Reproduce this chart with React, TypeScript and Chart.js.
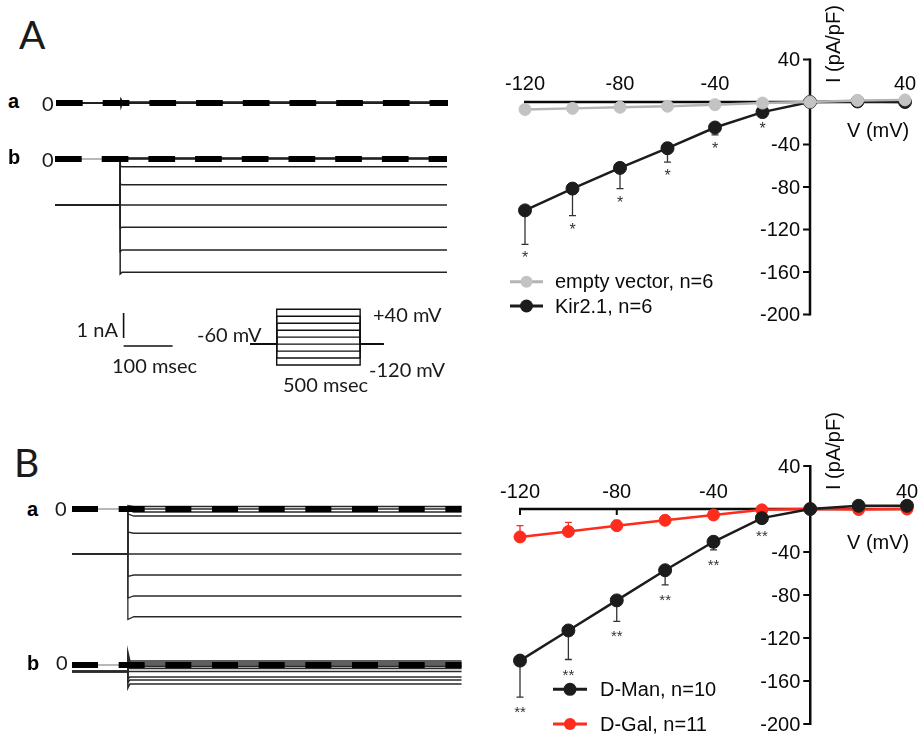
import React, { useEffect, useRef } from "react";
import { Chart, registerables } from "chart.js";

Chart.register(...registerables);

// ---------------- fonts ----------------
const ARIAL = '"Liberation Sans", Arial, Helvetica, sans-serif';
const CALIBRI = 'Lato, "Open Sans", "Liberation Sans", sans-serif';
const ASC_ARIAL = 0.8465;
const ASC_LATO = 0.887;

// ---------------- I–V data (pA/pF vs mV) ----------------
const V_MV = [-120, -100, -80, -60, -40, -20, 0, 20, 40];
const IV_X_TICK_LABELS = [-120, -80, -40, 40];
const IV_X_TICK_MARKS = [-120, -80, -40, 40];
const IV_Y_TICK_LABELS = [40, -40, -80, -120, -160, -200];

const EMPTY_VECTOR = [-7, -6, -5, -4, -2.5, -1, 0, 1.5, 2];
const EMPTY_VECTOR_SEM = [0, 0, 0, 0, 0, 0, 0, 0, 0];
const EMPTY_VECTOR_SIG = ["", "", "", "", "", "", "", "", ""];
const KIR21 = [-102, -81.5, -62, -43.5, -24, -9.5, 0, 0.5, 0];
const KIR21_SEM = [32, 25.5, 19.5, 13, 7, 3, 0, 0, 0];
const KIR21_SIG = ["*", "*", "*", "*", "*", "*", "", "", ""];

const D_MAN = [-141, -113, -85, -57, -30.5, -8.5, 0, 3, 3];
const D_MAN_SEM = [34, 27, 19.5, 13.5, 7.5, 3, 0, 0, 0];
const D_MAN_SIG = ["**", "**", "**", "**", "**", "**", "", "", ""];
const D_GAL = [-26, -21, -15.5, -10.5, -5.5, -0.8, 0, -0.5, 0];
const D_GAL_SEM = [10.5, 8.5, 5, 3, 2, 1, 0, 0, 0];
const D_GAL_SIG = ["", "", "", "", "", "", "", "", ""];

// ---------------- current traces (nA vs ms) ----------------
const STEP_MV = [-120, -100, -80, -60, -40, -20, 0, 20, 40];
const A_TIMES = [0, 133, 800]; // start, step onset, end (ms)
const B_TIMES = [0, 114, 795];

const A_A_HOLD = 0;
const A_A_LEVELS = [0.03, 0.02, 0.02, 0.01, 0.0, 0.0, 0.0, 0.01, 0.02];
const A_A_PEAKS = [-0.14, -0.1, -0.06, 0.0, 0.04, 0.06, 0.1, 0.12, 0.14];

const A_B_HOLD = -1.84;
const A_B_LEVELS = [-4.53, -3.64, -2.73, -1.84, -1.03, -0.31, 0.0, 0.02, 0.04];
const A_B_PEAKS = [-4.6, -3.7, -2.76, -1.84, -1.0, -0.28, 0.02, 0.04, 0.06];

const B_A_HOLD = -1.8;
const B_A_LEVELS = [-4.31, -3.48, -2.64, -1.8, -0.97, -0.28, -0.12, 0.0, 0.1];
const B_A_PEAKS = [-4.42, -3.56, -2.7, -1.8, -0.92, -0.2, -0.05, 0.05, 0.14];

const B_B_HOLD = -0.26;
const B_B_LEVELS = [-0.76, -0.6, -0.48, -0.26, -0.14, -0.06, 0.0, 0.08, 0.16];
const B_B_PEAKS = [-0.92, -0.7, -0.55, -0.26, -0.05, 0.1, 0.25, 0.4, 0.52];

// voltage protocol
const PROTOCOL_T = [-160, 0, 500, 640]; // ms
const HOLD_MV = -60;

// scale bar (1 nA, 100 ms)
const SCALE_NA = 1;
const SCALE_MS = 100;

// ---------------- helpers ----------------
type Rect = { left: number; top: number; width: number; height: number };
type Box = { x0: number; x1: number; y0: number; y1: number };

function PlacedChart({ rect, box, build }: { rect: Rect; box: Box; build: (padding: any) => any }) {
  const ref = useRef<HTMLCanvasElement | null>(null);
  useEffect(() => {
    const padding = {
      left: box.x0 - rect.left,
      right: rect.left + rect.width - box.x1,
      top: box.y0 - rect.top,
      bottom: rect.top + rect.height - box.y1,
    };
    const chart = new Chart(ref.current as HTMLCanvasElement, build(padding));
    return () => chart.destroy();
  }, []);
  return (
    <canvas
      ref={ref}
      width={rect.width}
      height={rect.height}
      style={{ position: "absolute", left: rect.left, top: rect.top, width: rect.width, height: rect.height }}
    />
  );
}

function baseOptions(padding: any, xMin: number, xMax: number, yMin: number, yMax: number) {
  return {
    responsive: false,
    maintainAspectRatio: false,
    animation: false as const,
    events: [] as any[],
    layout: { padding },
    plugins: { legend: { display: false }, tooltip: { enabled: false } },
    scales: {
      x: { type: "linear", min: xMin, max: xMax, display: false },
      y: { type: "linear", min: yMin, max: yMax, display: false },
    },
  };
}

function lineDs(points: { x: number; y: number }[], color: string, width: number, extra: any = {}) {
  return {
    data: points,
    borderColor: color,
    backgroundColor: color,
    borderWidth: width,
    pointRadius: 0,
    tension: 0,
    clip: false,
    borderCapStyle: "butt",
    borderJoinStyle: "miter",
    ...extra,
  };
}

function sweepPoints(times: number[], hold: number, peak: number, level: number, settle: number) {
  const [t0, ts, te] = times;
  return [
    { x: t0, y: hold },
    { x: ts, y: hold },
    { x: ts, y: peak },
    { x: ts + settle, y: level },
    { x: te, y: level },
  ];
}

type TraceSpec = {
  times: number[];
  hold: number;
  levels: number[];
  peaks: number[];
  settle: number;
  dash: number[];
  xMax: number;
  yMin: number;
  yMax: number;
  sweepColor: string;
  sweepWidth: number;
  extra?: any[];
};

function traceBuilder(spec: TraceSpec) {
  return (padding: any) => {
    const [t0, ts, te] = spec.times;
    const sweeps = spec.levels.map((lv, i) =>
      lineDs(sweepPoints(spec.times, spec.hold, spec.peaks[i], lv, spec.settle), spec.sweepColor, spec.sweepWidth)
    );
    const zeroThin = lineDs([{ x: t0, y: 0 }, { x: ts, y: 0 }], "#a0a0a0", 1.4);
    const zeroDash = lineDs([{ x: t0, y: 0 }, { x: te, y: 0 }], "#000", 6, { borderDash: spec.dash });
    const datasets = [zeroDash, ...(spec.extra || []), ...sweeps, zeroThin];
    return {
      type: "line",
      data: { datasets },
      options: baseOptions(padding, 0, spec.xMax, spec.yMin, spec.yMax),
    };
  };
}

function protocolBuilder(padding: any) {
  const [tA, tOn, tOff, tB] = PROTOCOL_T;
  const datasets = STEP_MV.map((v) =>
    lineDs(
      [
        { x: tA, y: HOLD_MV },
        { x: tOn, y: HOLD_MV },
        { x: tOn, y: v },
        { x: tOff, y: v },
        { x: tOff, y: HOLD_MV },
        { x: tB, y: HOLD_MV },
      ],
      "#111",
      1.4
    )
  );
  return {
    type: "line",
    data: { datasets },
    options: baseOptions(padding, tA, tB, -120, 40),
  };
}

// ---------------- I–V chart ----------------
type Series = {
  label: string;
  values: number[];
  sem: number[];
  semDir: number;
  sig: string[];
  line: string;
  fill: string;
  semColor: string;
  radius: number;
};

type IvLayout = {
  ox: number;
  oy: number;
  xLabelGap: number;
  vTitle: { x: number; y: number };
  iTitle: { x: number; y: number };
  legend: { x0: number; x1: number; textX: number; rows: number[] };
  sigFont: number;
  sigOffset: number;
};

function ivBuilder(series: Series[], lay: IvLayout) {
  const AX = "#0a0a0a";
  const plugin = {
    id: "ivDecor",
    beforeDatasetsDraw(chart: any) {
      const ctx = chart.ctx as CanvasRenderingContext2D;
      const xs = chart.scales.x;
      const ys = chart.scales.y;
      const px0 = xs.getPixelForValue(0);
      const py0 = ys.getPixelForValue(0);
      ctx.save();
      ctx.strokeStyle = AX;
      ctx.lineCap = "butt";
      ctx.lineWidth = 2.5;
      ctx.beginPath();
      ctx.moveTo(xs.getPixelForValue(xs.min) - 1, py0);
      ctx.lineTo(xs.getPixelForValue(xs.max) + 1, py0);
      ctx.moveTo(px0, ys.getPixelForValue(ys.max) - 1);
      ctx.lineTo(px0, ys.getPixelForValue(ys.min) + 1);
      ctx.stroke();
      ctx.lineWidth = 2;
      ctx.beginPath();
      for (const t of IV_X_TICK_MARKS) {
        const p = xs.getPixelForValue(t);
        ctx.moveTo(p, py0);
        ctx.lineTo(p, py0 + 6);
      }
      for (const t of IV_Y_TICK_LABELS) {
        const p = ys.getPixelForValue(t);
        ctx.moveTo(px0, p);
        ctx.lineTo(px0 - 7, p);
      }
      ctx.stroke();

      ctx.fillStyle = AX;
      ctx.font = `20px ${ARIAL}`;
      ctx.textAlign = "center";
      ctx.textBaseline = "alphabetic";
      for (const t of IV_X_TICK_LABELS) ctx.fillText(String(t), xs.getPixelForValue(t), py0 - lay.xLabelGap);
      ctx.textAlign = "right";
      ctx.textBaseline = "middle";
      for (const t of IV_Y_TICK_LABELS) ctx.fillText(String(t), px0 - 10, ys.getPixelForValue(t) + 1);

      ctx.textAlign = "left";
      ctx.textBaseline = "middle";
      ctx.fillText("V (mV)", lay.vTitle.x - lay.ox, lay.vTitle.y - lay.oy);
      ctx.save();
      ctx.translate(lay.iTitle.x - lay.ox, lay.iTitle.y - lay.oy);
      ctx.rotate(-Math.PI / 2);
      ctx.fillText("I (pA/pF)", 0, 0);
      ctx.restore();

      // error bars (one-sided)
      for (const s of series) {
        ctx.strokeStyle = s.semColor;
        ctx.lineWidth = 1.3;
        ctx.beginPath();
        V_MV.forEach((v, i) => {
          if (!s.sem[i]) return;
          const x = xs.getPixelForValue(v);
          const yA = ys.getPixelForValue(s.values[i]);
          const yB = ys.getPixelForValue(s.values[i] + s.semDir * s.sem[i]);
          ctx.moveTo(x, yA);
          ctx.lineTo(x, yB);
          ctx.moveTo(x - 3.5, yB);
          ctx.lineTo(x + 3.5, yB);
        });
        ctx.stroke();
      }
      ctx.restore();
    },
    afterDatasetsDraw(chart: any) {
      const ctx = chart.ctx as CanvasRenderingContext2D;
      const xs = chart.scales.x;
      const ys = chart.scales.y;
      ctx.save();
      // significance marks
      ctx.fillStyle = "#333";
      ctx.font = `${lay.sigFont}px ${ARIAL}`;
      ctx.textAlign = "center";
      ctx.textBaseline = "alphabetic";
      for (const s of series) {
        V_MV.forEach((v, i) => {
          if (!s.sig[i]) return;
          const y = ys.getPixelForValue(s.values[i] - s.sem[i]);
          ctx.fillText(s.sig[i], xs.getPixelForValue(v), y + lay.sigOffset);
        });
      }
      // legend
      const L = lay.legend;
      series.forEach((s, i) => {
        const y = L.rows[i] - lay.oy;
        const x0 = L.x0 - lay.ox;
        const x1 = L.x1 - lay.ox;
        ctx.strokeStyle = s.line;
        ctx.lineWidth = 3;
        ctx.beginPath();
        ctx.moveTo(x0, y);
        ctx.lineTo(x1, y);
        ctx.stroke();
        ctx.fillStyle = s.fill;
        ctx.beginPath();
        ctx.arc((x0 + x1) / 2, y, s.radius, 0, Math.PI * 2);
        ctx.fill();
        ctx.fillStyle = AX;
        ctx.font = `20px ${ARIAL}`;
        ctx.textAlign = "left";
        ctx.textBaseline = "middle";
        ctx.fillText(s.label, L.textX - lay.ox, y + 1);
      });
      ctx.restore();
    },
  };

  return (padding: any) => ({
    type: "line",
    data: {
      datasets: series.map((s) => ({
        label: s.label,
        data: V_MV.map((v, i) => ({ x: v, y: s.values[i] })),
        borderColor: s.line,
        backgroundColor: s.fill,
        pointBackgroundColor: s.fill,
        pointBorderColor: s.fill,
        pointBorderWidth: 1,
        pointRadius: s.radius,
        borderWidth: 2.5,
        tension: 0,
        clip: false,
      })),
    },
    options: baseOptions(padding, -120, 40, -200, 40),
    plugins: [plugin],
  });
}

// ---------------- labels ----------------
function Label({
  x,
  y,
  text,
  size,
  family,
  asc,
  weight = 400,
  align = "left",
  color = "#1a1a1a",
}: {
  x: number;
  y: number;
  text: string;
  size: number;
  family: string;
  asc: number;
  weight?: number;
  align?: string;
  color?: string;
}) {
  const shift = align === "right" ? "-100%" : align === "center" ? "-50%" : "0";
  return (
    <div
      style={{
        position: "absolute",
        left: x,
        top: y - asc * size,
        fontFamily: family,
        fontSize: size,
        fontWeight: weight,
        lineHeight: `${size}px`,
        whiteSpace: "nowrap",
        color,
        transform: `translateX(${shift})`,
      }}
    >
      {text}
    </div>
  );
}

const cal = (x: number, y: number, text: string, size = 20, align = "left") => (
  <Label key={text + x + y} x={x} y={y} text={text} size={size} family={CALIBRI} asc={ASC_LATO} align={align} />
);
const bold = (x: number, y: number, text: string) => (
  <Label key={text + x + y} x={x} y={y} text={text} size={20} family={ARIAL} asc={ASC_ARIAL} weight={700} color="#000" />
);

// ---------------- app ----------------
export default function App() {
  const ivA = ivBuilder(
    [
      {
        label: "empty vector, n=6",
        values: EMPTY_VECTOR,
        sem: EMPTY_VECTOR_SEM,
        semDir: -1,
        sig: EMPTY_VECTOR_SIG,
        line: "#b4b4b4",
        fill: "#c3c3c3",
        semColor: "#999",
        radius: 6,
      },
      {
        label: "Kir2.1, n=6",
        values: KIR21,
        sem: KIR21_SEM,
        semDir: -1,
        sig: KIR21_SIG,
        line: "#1c1c1c",
        fill: "#1c1c1c",
        semColor: "#333",
        radius: 6.5,
      },
    ],
    {
      ox: 490,
      oy: 0,
      xLabelGap: 12,
      vTitle: { x: 847, y: 131 },
      iTitle: { x: 834, y: 83 },
      legend: { x0: 510, x1: 543, textX: 555, rows: [281.7, 306] },
      sigFont: 16,
      sigOffset: 19,
    }
  );

  const ivB = ivBuilder(
    [
      {
        label: "D-Man, n=10",
        values: D_MAN,
        sem: D_MAN_SEM,
        semDir: -1,
        sig: D_MAN_SIG,
        line: "#1c1c1c",
        fill: "#1c1c1c",
        semColor: "#333",
        radius: 6.5,
      },
      {
        label: "D-Gal, n=11",
        values: D_GAL,
        sem: D_GAL_SEM,
        semDir: 1,
        sig: D_GAL_SIG,
        line: "#ff2b1c",
        fill: "#ff2b1c",
        semColor: "#ff2b1c",
        radius: 6,
      },
    ],
    {
      ox: 490,
      oy: 405,
      xLabelGap: 11.5,
      vTitle: { x: 847, y: 543 },
      iTitle: { x: 834, y: 490 },
      legend: { x0: 553, x1: 587, textX: 600, rows: [689.3, 724] },
      sigFont: 15,
      sigOffset: 20,
    }
  );

  const scaleBar = [
    lineDs([{ x: 140, y: -6.16 }, { x: 140, y: -6.16 - SCALE_NA }], "#111", 1.6),
    lineDs([{ x: 140, y: -7.48 }, { x: 140 + SCALE_MS, y: -7.48 }], "#111", 1.6),
  ];

  return (
    <div
      style={{
        position: "absolute",
        left: 0,
        top: 0,
        width: 920,
        height: 735,
        background: "#fff",
        overflow: "hidden",
      }}
    >
      {/* Panel A traces */}
      <PlacedChart
        rect={{ left: 45, top: 80, width: 415, height: 45 }}
        box={{ x0: 56, x1: 448, y0: 88, y1: 118 }}
        build={traceBuilder({
          times: A_TIMES,
          hold: A_A_HOLD,
          levels: A_A_LEVELS,
          peaks: A_A_PEAKS,
          settle: 3,
          dash: [26.7, 20],
          xMax: 800,
          yMin: -0.6,
          yMax: 0.6,
          sweepColor: "#222",
          sweepWidth: 1.4,
        })}
      />
      <PlacedChart
        rect={{ left: 45, top: 135, width: 415, height: 235 }}
        box={{ x0: 55, x1: 447, y0: 146.5, y1: 359 }}
        build={traceBuilder({
          times: A_TIMES,
          hold: A_B_HOLD,
          levels: A_B_LEVELS,
          peaks: A_B_PEAKS,
          settle: 4,
          dash: [26.7, 20],
          xMax: 800,
          yMin: -8,
          yMax: 0.5,
          sweepColor: "#222",
          sweepWidth: 1.5,
          extra: scaleBar,
        })}
      />
      <PlacedChart
        rect={{ left: 240, top: 300, width: 155, height: 75 }}
        box={{ x0: 250, x1: 383.5, y0: 309.3, y1: 365 }}
        build={protocolBuilder}
      />

      {/* Panel B traces */}
      <PlacedChart
        rect={{ left: 60, top: 490, width: 410, height: 150 }}
        box={{ x0: 72, x1: 464, y0: 499, y1: 629 }}
        build={traceBuilder({
          times: B_TIMES,
          hold: B_A_HOLD,
          levels: B_A_LEVELS,
          peaks: B_A_PEAKS,
          settle: 12,
          dash: [26, 20.67],
          xMax: 800,
          yMin: -4.8,
          yMax: 0.4,
          sweepColor: "#2a2a2a",
          sweepWidth: 1.3,
        })}
      />
      <PlacedChart
        rect={{ left: 60, top: 640, width: 410, height: 65 }}
        box={{ x0: 72, x1: 464, y0: 645, y1: 695 }}
        build={traceBuilder({
          times: B_TIMES,
          hold: B_B_HOLD,
          levels: B_B_LEVELS,
          peaks: B_B_PEAKS,
          settle: 4,
          dash: [26, 20.67],
          xMax: 800,
          yMin: -1.2,
          yMax: 0.8,
          sweepColor: "#2a2a2a",
          sweepWidth: 1.5,
        })}
      />

      {/* I-V charts */}
      <PlacedChart rect={{ left: 490, top: 0, width: 430, height: 340 }} box={{ x0: 525, x1: 905, y0: 59.5, y1: 314.5 }} build={ivA} />
      <PlacedChart rect={{ left: 490, top: 405, width: 430, height: 330 }} box={{ x0: 520, x1: 907, y0: 466, y1: 724 }} build={ivB} />

      {/* text annotations */}
      {cal(19, 50, "A", 39)}
      {bold(8, 107.5, "a")}
      {cal(42, 110.5, "0")}
      {bold(8, 164, "b")}
      {cal(42, 166.5, "0")}
      {cal(118, 337, "1 nA", 20, "right")}
      {cal(112, 373, "100 msec")}
      {cal(197, 341.5, "-60 mV")}
      {cal(373, 321.5, "+40 mV")}
      {cal(369, 376.5, "-120 mV")}
      {cal(283, 391.5, "500 msec")}

      {cal(14, 478, "B", 39)}
      {bold(27, 516, "a")}
      {cal(55, 516, "0")}
      {bold(27, 670, "b")}
      {cal(56, 670, "0")}
    </div>
  );
}
